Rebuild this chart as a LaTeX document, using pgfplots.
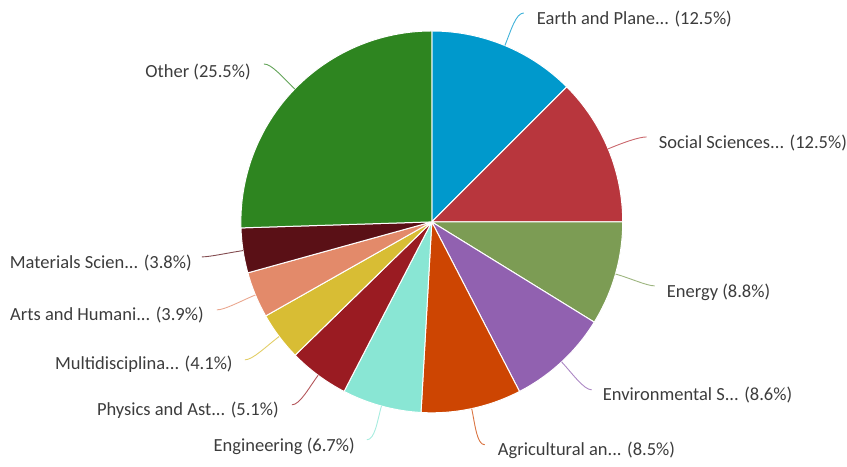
\documentclass[border=0pt]{standalone}
\usepackage{pgfplots}
\pgfplotsset{compat=1.18}
\usepackage{pgfplotstable}
\usepackage{fontspec}
\setmainfont{Carlito}
\definecolor{cEarth}{HTML}{0099CC}
\definecolor{cSocial}{HTML}{B8363D}
\definecolor{cEnergy}{HTML}{7C9C54}
\definecolor{cEnv}{HTML}{9161B0}
\definecolor{cAgri}{HTML}{CD4502}
\definecolor{cEng}{HTML}{89E6D4}
\definecolor{cPhys}{HTML}{9A1B22}
\definecolor{cMulti}{HTML}{D8BD34}
\definecolor{cArts}{HTML}{E38A6A}
\definecolor{cMat}{HTML}{5A1016}
\definecolor{cOther}{HTML}{2E8520}
\definecolor{lblgray}{HTML}{3C3C3C}
\tikzset{lbl/.style={font=\fontsize{18.5}{21}\selectfont, text=lblgray, inner sep=0pt}}
\pgfplotstableread[col sep=comma]{
name,val,col,ex,ey,lx,ly,anc,sd
Earth and Plane...,12.5,cEarth,524,13,537,19,west,1
Social Sciences...,12.5,cSocial,647,137,659,143,west,1
Energy,8.8,cEnergy,655,286,667,292,west,1
Environmental S...,8.6,cEnv,592,390,603,395,west,1
Agricultural an...,8.5,cAgri,485,445,498,451,west,1
Engineering,6.7,cEng,367,440,355,447,east,-1
Physics and Ast...,5.1,cPhys,292,405,279,410,east,-1
Multidisciplina...,4.1,cMulti,245,360,233,364,east,-1
Arts and Humani...,3.9,cArts,217,310,204,315,east,-1
Materials Scien...,3.8,cMat,202,257,192,263,east,-1
Other,25.5,cOther,264,64,251,72,east,-1
}\slices
\begin{document}
\begin{tikzpicture}
\pgfplotstablegetrowsof{\slices}
\pgfmathtruncatemacro{\lastrow}{\pgfplotsretval-1}
\begin{axis}[x=1pt,y=1pt,xmin=0,xmax=847,ymin=0,ymax=467,hide axis,clip=false]
\path (axis cs:0,0) rectangle (axis cs:847,467);
\gdef\cum{0}
\def\cx{432}\def\cy{245}\def\R{191}
\pgfplotsinvokeforeach{0,...,\lastrow}{
  \pgfplotstablegetelem{#1}{val}\of{\slices}\let\sval\pgfplotsretval
  \pgfplotstablegetelem{#1}{name}\of{\slices}\let\sname\pgfplotsretval
  \pgfplotstablegetelem{#1}{col}\of{\slices}\let\scol\pgfplotsretval
  \pgfplotstablegetelem{#1}{ex}\of{\slices}\let\sex\pgfplotsretval
  \pgfplotstablegetelem{#1}{ey}\of{\slices}\let\sey\pgfplotsretval
  \pgfplotstablegetelem{#1}{lx}\of{\slices}\let\slx\pgfplotsretval
  \pgfplotstablegetelem{#1}{ly}\of{\slices}\let\sly\pgfplotsretval
  \pgfplotstablegetelem{#1}{anc}\of{\slices}\let\sanc\pgfplotsretval
  \pgfplotstablegetelem{#1}{sd}\of{\slices}\let\ssd\pgfplotsretval
  \pgfmathsetmacro\pA{90-3.6*\cum}
  \pgfmathsetmacro\pB{90-3.6*(\cum+\sval)}
  \pgfmathsetmacro\pM{(\pA+\pB)/2}
  \pgfmathsetmacro\sxA{\cx+\R*cos(\pA)}
  \pgfmathsetmacro\syA{\cy+\R*sin(\pA)}
  \pgfmathsetmacro\mx{\cx+\R*cos(\pM)}
  \pgfmathsetmacro\my{\cy+\R*sin(\pM)}
  \pgfmathsetmacro\kx{\cx+(\R+16)*cos(\pM)}
  \pgfmathsetmacro\ky{\cy+(\R+16)*sin(\pM)}
  \pgfmathsetmacro\eyy{467-\sey}
  \pgfmathsetmacro\hx{\sex-8*\ssd}
  \pgfmathsetmacro\lyy{467-\sly}
  \pgfmathsetmacro\newcum{\cum+\sval}
  \xdef\cum{\newcum}
  \edef\temp{%
    \noexpand\fill[\scol, draw=white, line width=1pt, line join=round] (axis cs:\cx,\cy) -- (axis cs:\sxA,\syA) arc[start angle=\pA, end angle=\pB, radius=\R pt] -- cycle;
    \noexpand\draw[\scol!75, line width=0.9pt] (axis cs:\mx,\my) .. controls (axis cs:\kx,\ky) and (axis cs:\hx,\eyy) .. (axis cs:\sex,\eyy);
    \noexpand\node[lbl, anchor=\sanc] at (axis cs:\slx,\lyy) {\sname{} (\sval\%)};
  }%
  \temp
}
\end{axis}
\end{tikzpicture}
\end{document}
